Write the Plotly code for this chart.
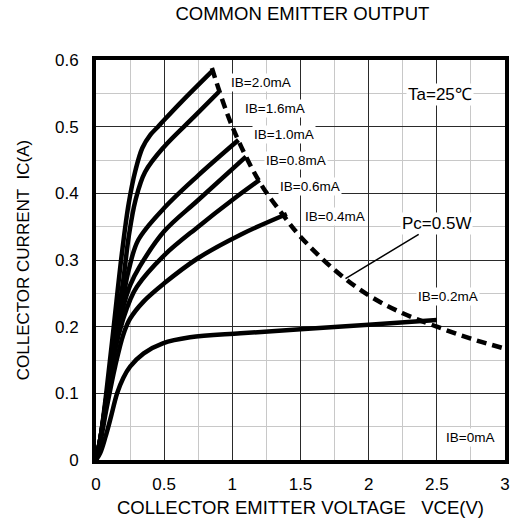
import plotly.graph_objects as go

# ---- data ----
ib_labels = ["IB=2.0mA", "IB=1.6mA", "IB=1.0mA", "IB=0.8mA", "IB=0.6mA", "IB=0.4mA", "IB=0.2mA", "IB=0mA"]

vce_20 = [0, 0.03, 0.075, 0.13, 0.19, 0.24, 0.29, 0.34, 0.40, 0.455, 0.50, 0.63, 0.85]
ic_20 = [0, 0.03, 0.10, 0.20, 0.31, 0.385, 0.435, 0.468, 0.488, 0.50, 0.51, 0.538, 0.583]

vce_16 = [0, 0.03, 0.08, 0.14, 0.20, 0.24, 0.29, 0.36, 0.50, 0.72, 0.90]
ic_16 = [0, 0.03, 0.10, 0.19, 0.27, 0.335, 0.39, 0.432, 0.47, 0.515, 0.552]

vce_10 = [0, 0.03, 0.08, 0.14, 0.20, 0.24, 0.31, 0.50, 0.75, 1.045]
ic_10 = [0, 0.03, 0.10, 0.185, 0.245, 0.285, 0.33, 0.378, 0.427, 0.48]

vce_08 = [0, 0.03, 0.08, 0.14, 0.20, 0.25, 0.32, 0.50, 0.75, 1.10]
ic_08 = [0, 0.03, 0.095, 0.175, 0.23, 0.262, 0.29, 0.343, 0.39, 0.455]

vce_06 = [0, 0.03, 0.08, 0.14, 0.20, 0.25, 0.30, 0.50, 0.75, 1.00, 1.20]
ic_06 = [0, 0.03, 0.09, 0.165, 0.212, 0.24, 0.26, 0.307, 0.35, 0.39, 0.42]

vce_04 = [0, 0.03, 0.08, 0.14, 0.20, 0.25, 0.35, 0.50, 0.75, 1.06, 1.40]
ic_04 = [0, 0.025, 0.08, 0.14, 0.188, 0.212, 0.238, 0.265, 0.303, 0.338, 0.369]

vce_02 = [0, 0.03, 0.07, 0.11, 0.155, 0.20, 0.25, 0.35, 0.49, 0.69, 1.06, 1.50, 2.00, 2.50]
ic_02 = [0, 0.01, 0.035, 0.065, 0.10, 0.123, 0.14, 0.16, 0.175, 0.184, 0.19, 0.196, 0.203, 0.21]

pc_vce = [0.85, 1.00, 1.20, 1.37, 1.50, 1.75, 2.00, 2.25, 2.50, 2.75, 3.00]
pc_ic = [0.588, 0.50, 0.417, 0.368, 0.335, 0.285, 0.247, 0.22, 0.20, 0.182, 0.167]

# label anchor positions (data units)
label_x = [1.21, 1.31, 1.377, 1.466, 1.57, 1.753, 2.585, 2.74]
label_y = [0.566, 0.528, 0.488, 0.45, 0.41, 0.365, 0.246, 0.034]

x_ticks = [0, 0.5, 1, 1.5, 2, 2.5, 3]
x_ticktext = ["0", "0.5", "1", "1.5", "2", "2.5", "3"]
x_minor_step = 0.25
y_ticks = [0, 0.1, 0.2, 0.3, 0.4, 0.5, 0.6]
y_ticktext = ["0", "0.1", "0.2", "0.3", "0.4", "0.5", "0.6"]
y_minor_step = 0.05

FONT = "Liberation Sans, Arial, sans-serif"

fig = go.Figure()

curves = [(vce_20, ic_20), (vce_16, ic_16), (vce_10, ic_10), (vce_08, ic_08),
          (vce_06, ic_06), (vce_04, ic_04), (vce_02, ic_02)]
for (xs, ys), name in zip(curves, ib_labels):
    fig.add_trace(go.Scatter(x=xs, y=ys, mode="lines", name=name,
                             line=dict(color="black", width=4.5, shape="spline", smoothing=1.0),
                             showlegend=False, hoverinfo="skip"))

fig.add_trace(go.Scatter(x=pc_vce, y=pc_ic, mode="lines", name="Pc=0.5W",
                         line=dict(color="black", width=4.5, dash="10px,6px", shape="spline"),
                         showlegend=False, hoverinfo="skip"))

for t, lx, ly in zip(ib_labels, label_x, label_y):
    fig.add_annotation(x=lx, y=ly, text=t, showarrow=False,
                       font=dict(family=FONT, size=13.5, color="black"),
                       bgcolor="white", borderpad=1)

fig.add_annotation(x=2.52, y=0.548, text="Ta=25℃", showarrow=False,
                   font=dict(family=FONT, size=17, color="black"), bgcolor="white", borderpad=1)

fig.add_annotation(x=1.83, y=0.272, ax=2.5, ay=0.355, axref="x", ayref="y",
                   text="Pc=0.5W", showarrow=True, arrowhead=0, arrowwidth=1.5,
                   arrowcolor="black", standoff=0,
                   font=dict(family=FONT, size=17, color="black"), bgcolor="white", borderpad=1)

axis_common = dict(showline=True, linewidth=4, linecolor="black", mirror=True,
                   zeroline=False, showgrid=True, gridcolor="#2a2a2a", gridwidth=1,
                   ticks="", tickfont=dict(family=FONT, size=17, color="black"),
                   layer="below traces")

fig.update_xaxes(range=[x_ticks[0], x_ticks[-1]], tickmode="linear", tick0=x_ticks[0],
                 dtick=x_ticks[1] - x_ticks[0],
                 minor=dict(dtick=x_minor_step, showgrid=True, gridcolor="#c8c8c8", gridwidth=1),
                 ticklabelstandoff=6,
                 title=dict(text="COLLECTOR EMITTER VOLTAGE\u00a0\u00a0\u00a0VCE(V)",
                            font=dict(family=FONT, size=18.5, color="black"), standoff=9),
                 **axis_common)
fig.update_yaxes(range=[y_ticks[0], y_ticks[-1]], tickmode="linear", tick0=y_ticks[0],
                 dtick=y_ticks[1] - y_ticks[0],
                 minor=dict(dtick=y_minor_step, showgrid=True, gridcolor="#c8c8c8", gridwidth=1),
                 ticklabelstandoff=10,
                 title=dict(text="COLLECTOR CURRENT\u00a0\u00a0IC(A)",
                            font=dict(family=FONT, size=17, color="black"), standoff=22),
                 **axis_common)

fig.update_layout(
    width=516, height=526,
    margin=dict(l=96, r=11, t=60, b=66, autoexpand=False),
    paper_bgcolor="white", plot_bgcolor="white",
    title=dict(text="COMMON EMITTER OUTPUT", x=0.586, xanchor="center", y=0.975, yanchor="middle",
               font=dict(family=FONT, size=18.5, color="black")),
)

fig.write_html("out.html", config={"displayModeBar": False},
               post_script="document.body.style.margin='0px';")
